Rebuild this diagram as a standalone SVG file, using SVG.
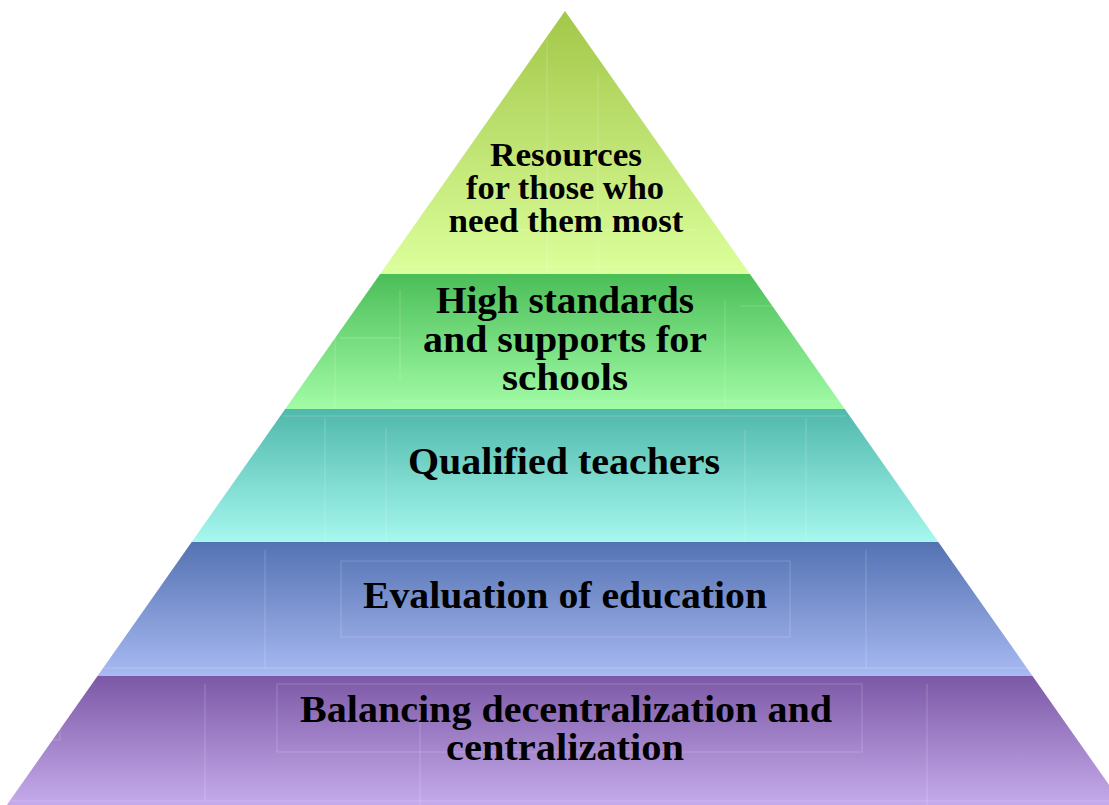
<svg xmlns="http://www.w3.org/2000/svg" width="1109" height="805" viewBox="0 0 1109 805">
  <defs>
    <linearGradient id="g1" x1="0" y1="0" x2="0" y2="1">
      <stop offset="0" stop-color="#A2C748"/>
      <stop offset="1" stop-color="#DCFF9C"/>
    </linearGradient>
    <linearGradient id="g2" x1="0" y1="0" x2="0" y2="1">
      <stop offset="0" stop-color="#4BBE58"/>
      <stop offset="1" stop-color="#A2FCA6"/>
    </linearGradient>
    <linearGradient id="g3" x1="0" y1="0" x2="0" y2="1">
      <stop offset="0" stop-color="#50B8AC"/>
      <stop offset="1" stop-color="#A6F8EE"/>
    </linearGradient>
    <linearGradient id="g4" x1="0" y1="0" x2="0" y2="1">
      <stop offset="0" stop-color="#5472B2"/>
      <stop offset="1" stop-color="#A8BAF2"/>
    </linearGradient>
    <linearGradient id="g5" x1="0" y1="0" x2="0" y2="1">
      <stop offset="0" stop-color="#7C58A6"/>
      <stop offset="1" stop-color="#C5ABEB"/>
    </linearGradient>
  </defs>
  <style>
    .lbl { font-family: "Liberation Serif", "DejaVu Serif", serif; font-weight: bold; fill: #000000; text-anchor: middle; }
    .big { font-size: 38px; }
    .small { font-size: 33px; }
    .faint { fill: none; stroke: #FFFFFF; stroke-opacity: 0.2; stroke-width: 1; }
  </style>
  <rect x="0" y="0" width="1109" height="805" fill="#FFFFFF"/>

  <g id="tier1">
    <polygon points="565,11 749.9,274 380.1,274" fill="url(#g1)"/>
    <path class="faint" d="M547 40 V274 M598 75 V274 M450 230 H700 M388 266 H742"/>
    <text class="lbl small" x="566" y="166" textLength="152" lengthAdjust="spacingAndGlyphs">Resources</text>
    <text class="lbl small" x="565" y="199" textLength="198" lengthAdjust="spacingAndGlyphs">for those who</text>
    <text class="lbl small" x="566" y="232" textLength="235" lengthAdjust="spacingAndGlyphs">need them most</text>
  </g>

  <g id="tier2">
    <polygon points="380.1,274 749.9,274 844.8,409 285.2,409" fill="url(#g2)"/>
    <path class="faint" d="M335 338 V409 M340 338 H400 M400 290 V380 M725 300 V409 M785 306 H740 M390 401 H940" />
    <text class="lbl big" x="565" y="313" textLength="258" lengthAdjust="spacingAndGlyphs">High standards</text>
    <text class="lbl big" x="565" y="352" textLength="284" lengthAdjust="spacingAndGlyphs">and supports for</text>
    <text class="lbl big" x="565" y="390" textLength="126" lengthAdjust="spacingAndGlyphs">schools</text>
  </g>

  <g id="tier3">
    <polygon points="285.2,409 844.8,409 938.3,542 191.7,542" fill="url(#g3)"/>
    <path class="faint" d="M283 416 H846 M325 418 V542 M386 428 V542 M806 418 V542 M745 430 V542"/>
    <text class="lbl big" x="564" y="474" textLength="312" lengthAdjust="spacingAndGlyphs">Qualified teachers</text>
  </g>

  <g id="tier4">
    <polygon points="191.7,542 938.3,542 1032.5,676 97.5,676" fill="url(#g4)"/>
    <rect class="faint" x="341" y="561" width="449" height="76"/>
    <path class="faint" d="M265 550 V668 M866 550 V668 M104 668 H1028"/>
    <text class="lbl big" x="565" y="608" textLength="404" lengthAdjust="spacingAndGlyphs">Evaluation of education</text>
  </g>

  <g id="tier5">
    <polygon points="97.5,676 1032.5,676 1123.2,805 6.8,805" fill="url(#g5)"/>
    <rect class="faint" x="277" y="684" width="585" height="68"/>
    <path class="faint" d="M205 684 V800 M420 720 V805 M927 684 V805 M40 740 H60 V700 M10 801 H1109"/>
    <text class="lbl big" x="566" y="722" textLength="532" lengthAdjust="spacingAndGlyphs">Balancing decentralization and</text>
    <text class="lbl big" x="565" y="760" textLength="238" lengthAdjust="spacingAndGlyphs">centralization</text>
  </g>
</svg>
